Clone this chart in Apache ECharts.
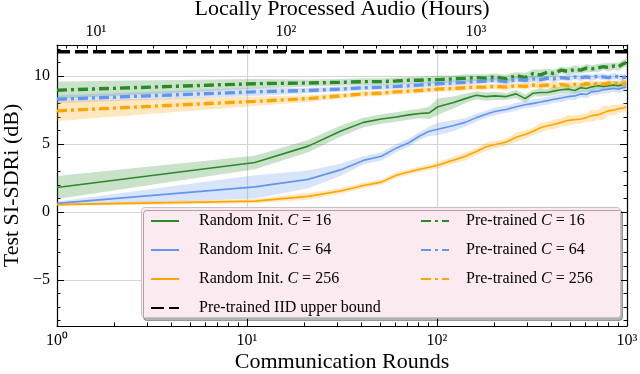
<!DOCTYPE html>
<html>
<head>
<meta charset="utf-8">
<script src="https://cdn.jsdelivr.net/npm/echarts@6/dist/echarts.min.js"></script>
<style>
  html, body { margin: 0; padding: 0; background: #fff; }
  #chart { width: 640px; height: 374px; }
</style>
</head>
<body>
<div id="chart"></div>
<script>
// communication rounds where the curves were evaluated
var rounds = [1, 11, 21, 31, 41, 51, 61, 71, 81, 91, 101, 121, 141, 161, 181, 201, 231, 261, 291, 321, 351, 381, 411, 451, 491, 531, 571, 611, 651, 701, 751, 801, 851, 901, 951, 991];

// random init, mean and half-width of the shaded band
var randomC16 = [1.8, 3.65, 4.85, 5.95, 6.6, 6.85, 7.0, 7.15, 7.25, 7.3, 7.75, 8.05, 8.35, 8.6, 8.5, 8.55, 8.5, 8.7, 8.35, 8.75, 8.8, 8.8, 8.9, 9.0, 9.05, 8.95, 9.15, 9.1, 9.2, 9.3, 9.25, 9.3, 9.35, 9.3, 9.4, 9.4];
var spreadC16 = [0.85, 0.5, 0.45, 0.4, 0.35, 0.35, 0.35, 0.35, 0.35, 0.45, 0.6, 0.45, 0.35, 0.3, 0.3, 0.3, 0.25, 0.3, 0.3, 0.25, 0.3, 0.25, 0.3, 0.25, 0.3, 0.25, 0.3, 0.25, 0.3, 0.25, 0.3, 0.25, 0.3, 0.25, 0.3, 0.3];
var randomC64 = [0.63, 1.85, 2.4, 3.1, 3.8, 4.1, 4.7, 5.1, 5.6, 5.95, 6.1, 6.35, 6.6, 6.95, 7.2, 7.4, 7.55, 7.75, 7.9, 8.0, 8.1, 8.2, 8.3, 8.4, 8.5, 8.55, 8.7, 8.65, 8.85, 8.9, 9.0, 9.05, 9.1, 9.05, 9.15, 9.2];
var spreadC64 = [0.15, 0.85, 0.65, 0.45, 0.3, 0.3, 0.3, 0.3, 0.3, 0.35, 0.45, 0.4, 0.3, 0.3, 0.25, 0.3, 0.25, 0.3, 0.25, 0.3, 0.25, 0.3, 0.25, 0.3, 0.25, 0.3, 0.25, 0.3, 0.25, 0.3, 0.25, 0.3, 0.25, 0.3, 0.3, 0.3];
var randomC256 = [0.54, 0.8, 1.15, 1.55, 1.95, 2.2, 2.7, 2.95, 3.15, 3.3, 3.45, 3.8, 4.1, 4.45, 4.8, 4.95, 5.15, 5.5, 5.7, 5.95, 6.2, 6.35, 6.45, 6.6, 6.75, 6.8, 6.85, 6.95, 7.1, 7.15, 7.3, 7.45, 7.5, 7.6, 7.65, 7.75];
var spreadC256 = [0.1, 0.15, 0.25, 0.2, 0.2, 0.2, 0.2, 0.2, 0.2, 0.2, 0.25, 0.25, 0.3, 0.25, 0.3, 0.3, 0.25, 0.35, 0.3, 0.3, 0.35, 0.3, 0.35, 0.3, 0.4, 0.3, 0.35, 0.3, 0.45, 0.35, 0.55, 0.35, 0.4, 0.3, 0.35, 0.3];

// pre-trained
var pretrainedC16 = [8.97, 9.45, 9.5, 9.55, 9.6, 9.6, 9.65, 9.7, 9.7, 9.75, 9.75, 9.8, 9.85, 9.9, 9.85, 9.95, 9.8, 10.05, 9.9, 10.2, 10.1, 10.3, 10.2, 10.45, 10.35, 10.5, 10.45, 10.6, 10.55, 10.6, 10.7, 10.65, 10.75, 10.7, 10.9, 11.0];
var spreadPT16 = [0.65, 0.35, 0.25, 0.25, 0.25, 0.25, 0.25, 0.25, 0.25, 0.25, 0.3, 0.25, 0.3, 0.25, 0.3, 0.25, 0.3, 0.25, 0.35, 0.3, 0.4, 0.25, 0.3, 0.25, 0.3, 0.3, 0.25, 0.3, 0.25, 0.3, 0.25, 0.3, 0.25, 0.3, 0.3, 0.3];
var pretrainedC64 = [8.3, 8.85, 8.95, 9.05, 9.15, 9.2, 9.25, 9.3, 9.35, 9.4, 9.45, 9.5, 9.55, 9.6, 9.65, 9.7, 9.6, 9.75, 9.7, 9.8, 9.75, 9.85, 9.8, 9.9, 9.85, 9.95, 9.9, 9.95, 9.9, 10.0, 9.95, 9.9, 10.0, 9.95, 9.9, 9.95];
var spreadPT64 = [0.3, 0.3, 0.2, 0.2, 0.2, 0.2, 0.2, 0.2, 0.2, 0.2, 0.2, 0.2, 0.2, 0.2, 0.2, 0.2, 0.25, 0.2, 0.25, 0.2, 0.25, 0.2, 0.25, 0.2, 0.25, 0.2, 0.25, 0.2, 0.25, 0.2, 0.25, 0.2, 0.25, 0.2, 0.25, 0.25];
var pretrainedC256 = [7.45, 8.15, 8.35, 8.55, 8.7, 8.75, 8.85, 8.9, 8.95, 9.0, 9.05, 9.1, 9.15, 9.2, 9.2, 9.25, 9.2, 9.3, 9.25, 9.35, 9.3, 9.35, 9.25, 9.4, 9.3, 9.4, 9.35, 9.45, 9.4, 9.45, 9.4, 9.5, 9.45, 9.5, 9.45, 9.5];
var spreadPT256 = [0.75, 0.35, 0.25, 0.2, 0.2, 0.2, 0.2, 0.2, 0.2, 0.2, 0.2, 0.2, 0.2, 0.2, 0.2, 0.2, 0.25, 0.2, 0.25, 0.2, 0.25, 0.2, 0.3, 0.2, 0.25, 0.2, 0.25, 0.2, 0.25, 0.2, 0.25, 0.2, 0.25, 0.2, 0.25, 0.25];

// IID upper bound
var iidRounds = [1, 1000];
var iidValues = [11.8, 11.8];

// ticks
var yMajor = [-5, 0, 5, 10];
var yMinor = [-8, -7, -6, -4, -3, -2, -1, 1, 2, 3, 4, 6, 7, 8, 9, 11, 12];
var roundMajor = [1, 10, 100, 1000];
var roundMinor = [2, 3, 4, 5, 6, 7, 8, 9, 20, 30, 40, 50, 60, 70, 80, 90, 200, 300, 400, 500, 600, 700, 800, 900];
var hourMajor = [10, 100, 1000];
var hourMinor = [7, 8, 9, 20, 30, 40, 50, 60, 70, 80, 90, 200, 300, 400, 500, 600, 700, 800, 900, 2000, 3000, 4000, 5000, 6000];
var hoursPerRound = 6.25;

var GREEN = '#2a8a2a', BLUE = '#6495ED', ORANGE = '#FFA500';
var FONT = 'Liberation Serif';

var sup = ['\u2070', '\u00b9', '\u00b2', '\u00b3'];
function powLabel(v) {
    var e = Math.round(Math.log10(v));
    return '10' + sup[e];
}

function pairs(xs, ys) {
    return xs.map(function (x, i) { return [x, ys[i]]; });
}

function line(name, ys, color, dashed) {
    return {
        name: name,
        type: 'line',
        data: pairs(rounds, ys),
        symbol: 'none',
        z: 3,
        lineStyle: dashed ? { color: color, width: 3.4, type: [10, 4, 3, 4] } : { color: color, width: 1.6 },
        itemStyle: { color: color }
    };
}

function band(ys, sp, color) {
    return {
        type: 'custom',
        silent: true,
        z: 1,
        data: [[1, 0]],
        renderItem: function (params, api) {
            var pts = [];
            for (var i = 0; i < rounds.length; i++) pts.push(api.coord([rounds[i], ys[i] + sp[i]]));
            for (var j = rounds.length - 1; j >= 0; j--) pts.push(api.coord([rounds[j], ys[j] - sp[j]]));
            return { type: 'polygon', shape: { points: pts }, style: { fill: color, opacity: 0.25 } };
        }
    };
}

function tickAxis(type, pos, min, max, ticks, len, extra) {
    var a = {
        type: type, position: pos, min: min, max: max,
        axisLine: { show: false, onZero: false },
        axisTick: { show: true, inside: true, length: len, customValues: ticks, lineStyle: { color: '#000', width: 1 } },
        axisLabel: { show: false },
        splitLine: { show: false }
    };
    if (extra) for (var k in extra) a[k] = extra[k];
    return a;
}

var names = {
    r16: 'Random Init. C = 16', r64: 'Random Init. C = 64', r256: 'Random Init. C = 256',
    p16: 'Pre-trained C = 16', p64: 'Pre-trained C = 64', p256: 'Pre-trained C = 256',
    iid: 'Pre-trained IID upper bound'
};

var chart = echarts.init(document.getElementById('chart'));

function legendText(gap) {
    return {
        fontFamily: FONT, fontSize: 16, color: '#000', padding: [0, 0, 0, gap],
        rich: { i: { fontFamily: FONT, fontSize: 16, fontStyle: 'italic', color: '#000' } }
    };
}
function legendFmt(n) { return n.replace('C = ', '{i|C} = '); }

var nameStyle = { color: '#000', fontFamily: FONT, fontSize: 22 };

var option = {
    animation: false,
    textStyle: { fontFamily: FONT },
    grid: { left: 57, right: 13, top: 45, bottom: 48, containLabel: false, outerBoundsMode: 'none' },
    graphic: [{
        type: 'rect', left: 141, top: 207, z: 100,
        shape: { width: 479, height: 110, r: 3 },
        style: { fill: '#fbeaef', stroke: '#c4c4c4', lineWidth: 1, shadowColor: 'rgba(0,0,0,0.3)', shadowOffsetX: 2, shadowOffsetY: 3, shadowBlur: 0 }
    }],
    legend: [{
        data: [names.r16, names.r64, names.r256, names.iid],
        orient: 'vertical', left: 150, top: 213, padding: 0, z: 200,
        itemWidth: 28, itemHeight: 14, itemGap: 13, selectedMode: false,
        itemStyle: { opacity: 0 },
        textStyle: legendText(15), formatter: legendFmt
    }, {
        data: [names.p16, names.p64, names.p256],
        orient: 'vertical', left: 420, top: 213, padding: 0, z: 200,
        itemWidth: 28, itemHeight: 14, itemGap: 13, selectedMode: false,
        itemStyle: { opacity: 0 },
        textStyle: legendText(12), formatter: legendFmt
    }],
    xAxis: [
        {
            type: 'log', logBase: 10, min: 1, max: 1000, position: 'bottom',
            axisLine: { show: true, onZero: false, lineStyle: { color: '#000', width: 1.2 } },
            axisTick: { show: true, inside: true, length: 7, customValues: roundMajor, lineStyle: { color: '#000', width: 1 } },
            axisLabel: { customValues: roundMajor, color: '#000', fontFamily: FONT, fontSize: 16, margin: 7, formatter: powLabel },
            splitLine: { show: true, lineStyle: { color: '#d4d4d4', width: 1.2 } },
            name: 'Communication Rounds', nameLocation: 'middle', nameGap: 25, nameMoveOverlap: false,
            nameTextStyle: nameStyle
        },
        tickAxis('log', 'bottom', 1, 1000, roundMinor, 3.5),
        {
            type: 'log', logBase: 10, min: hoursPerRound, max: hoursPerRound * 1000, position: 'top',
            axisLine: { show: true, onZero: false, lineStyle: { color: '#000', width: 1.2 } },
            axisTick: { show: true, inside: true, length: 7, customValues: hourMajor, lineStyle: { color: '#000', width: 1 } },
            axisLabel: { customValues: hourMajor, color: '#000', fontFamily: FONT, fontSize: 16, margin: 5, formatter: powLabel },
            splitLine: { show: false },
            name: 'Locally Processed Audio (Hours)', nameLocation: 'middle', nameGap: 25, nameMoveOverlap: false,
            nameTextStyle: nameStyle
        },
        tickAxis('log', 'top', hoursPerRound, hoursPerRound * 1000, hourMinor, 3.5)
    ],
    yAxis: [
        {
            type: 'value', min: -8.4, max: 12.3, position: 'left',
            axisLine: { show: true, onZero: false, lineStyle: { color: '#000', width: 1.2 } },
            axisTick: { show: true, inside: true, length: 7, customValues: yMajor, lineStyle: { color: '#000', width: 1 } },
            axisLabel: {
                customValues: yMajor, color: '#000', fontFamily: FONT, fontSize: 16, margin: 7,
                formatter: function (v) { return String(v).replace('-', '\u2212'); }
            },
            splitLine: { show: true, lineStyle: { color: '#d4d4d4', width: 1.2 } },
            name: 'Test SI-SDRi (dB)', nameLocation: 'middle', nameGap: 34, nameMoveOverlap: false,
            nameTextStyle: nameStyle
        },
        tickAxis('value', 'left', -8.4, 12.3, yMinor, 3.5),
        tickAxis('value', 'right', -8.4, 12.3, yMajor, 7,
            { axisLine: { show: true, onZero: false, lineStyle: { color: '#000', width: 1.2 } } }),
        tickAxis('value', 'right', -8.4, 12.3, yMinor, 3.5)
    ],
    series: [
        band(randomC16, spreadC16, GREEN),
        band(randomC64, spreadC64, BLUE),
        band(randomC256, spreadC256, ORANGE),
        band(pretrainedC16, spreadPT16, GREEN),
        band(pretrainedC64, spreadPT64, BLUE),
        band(pretrainedC256, spreadPT256, ORANGE),
        line(names.r16, randomC16, GREEN, false),
        line(names.r64, randomC64, BLUE, false),
        line(names.r256, randomC256, ORANGE, false),
        line(names.p16, pretrainedC16, GREEN, true),
        line(names.p64, pretrainedC64, BLUE, true),
        line(names.p256, pretrainedC256, ORANGE, true),
        {
            name: names.iid, type: 'line', symbol: 'none', z: 4,
            data: pairs(iidRounds, iidValues),
            lineStyle: { color: '#000', width: 3.5, type: [13, 5] },
            itemStyle: { color: '#000' }
        }
    ]
};
chart.setOption(option);
</script>
</body>
</html>
